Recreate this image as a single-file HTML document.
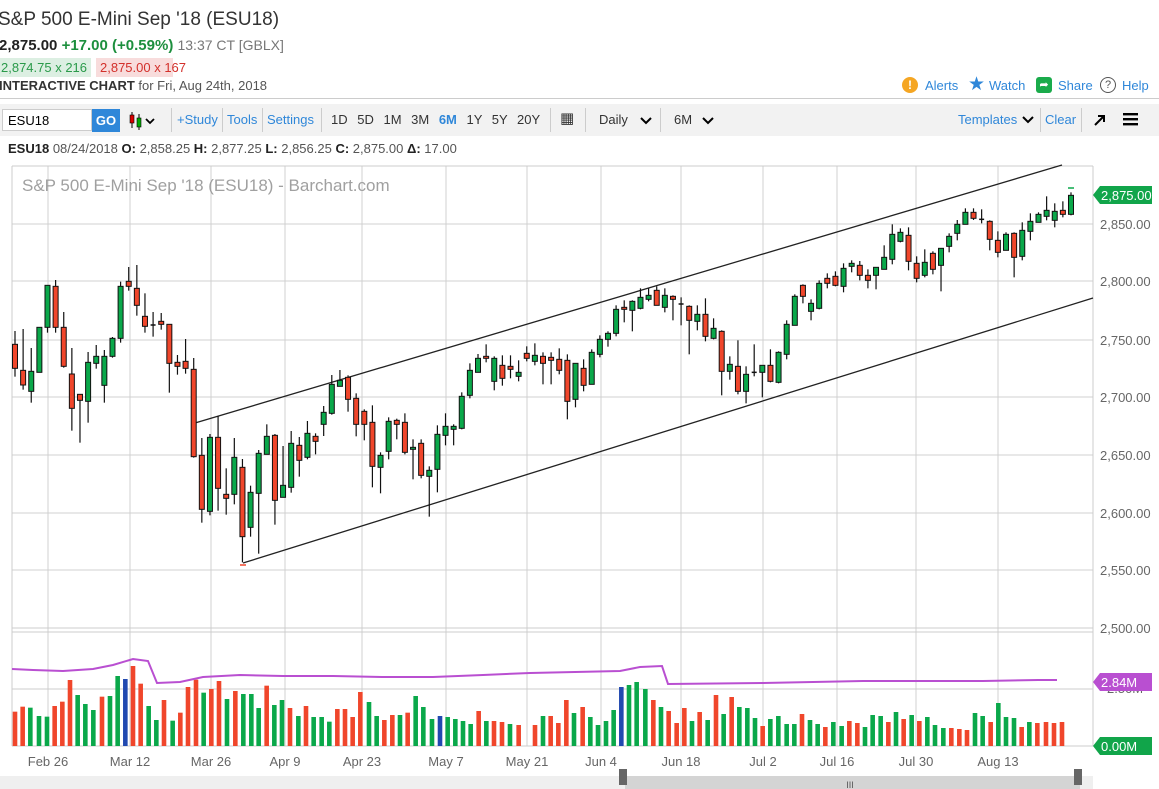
<!DOCTYPE html>
<html><head><meta charset="utf-8">
<style>
body{margin:0;width:1159px;height:789px;overflow:hidden;background:#fff;font-family:"Liberation Sans","DejaVu Sans",sans-serif;position:relative}
.a{position:absolute;white-space:nowrap}
.blue{color:#2f87d9}
</style></head><body>
<div class="a" style="left:-2px;top:9px;font-size:19px;color:#333">S&amp;P 500 E-Mini Sep '18 (ESU18)</div>
<div class="a" style="left:-1px;top:37px;font-size:15px;color:#222"><b>2,875.00</b> <b style="color:#1d8f3e">+17.00 (+0.59%)</b> <span style="color:#777;font-size:14px">13:37 CT [GBLX]</span></div>
<div class="a" style="left:0;top:58px;width:90px;height:19px;background:#dcefe2;color:#2a9a4a;font-size:13px;line-height:19px;padding-left:1px">2,874.75 x 216</div>
<div class="a" style="left:96px;top:58px;width:73px;height:19px;background:#f8dcdc;color:#d3302b;font-size:13px;line-height:19px;padding-left:4px">2,875.00 x 167</div>
<div class="a" style="left:-1px;top:78px;font-size:13px;color:#555"><b style="color:#333">INTERACTIVE CHART</b> for Fri, Aug 24th, 2018</div>
<div class="a" style="left:902px;top:77px;width:16px;height:16px;border-radius:50%;background:#f5a623;color:#fff;font-size:12px;font-weight:bold;text-align:center;line-height:16px">!</div>
<div class="a blue" style="left:925px;top:78px;font-size:13px">Alerts</div>
<div class="a" style="left:968px;top:73px;font-size:19px;color:#2f87d9">★</div>
<div class="a blue" style="left:989px;top:78px;font-size:13px">Watch</div>
<div class="a" style="left:1036px;top:77px;width:16px;height:16px;border-radius:3px;background:#1aab4b;color:#fff;font-size:11px;text-align:center;line-height:16px">➦</div>
<div class="a blue" style="left:1058px;top:78px;font-size:13px">Share</div>
<div class="a" style="left:1100px;top:77px;width:14px;height:14px;border-radius:50%;border:1.5px solid #555;color:#555;font-size:11px;text-align:center;line-height:14px">?</div>
<div class="a blue" style="left:1122px;top:78px;font-size:13px">Help</div>
<div class="a" style="left:0;top:98px;width:1159px;height:1px;background:#ccc"></div>
<div class="a" style="left:0;top:104px;width:1159px;height:32px;background:#f2f2f2"></div>
<div class="a" style="left:2px;top:109px;height:22px;background:#fff;border:1px solid #ccc;font-size:13px;line-height:22px;padding-left:5px;box-sizing:border-box;width:90px">ESU18</div>
<div class="a" style="left:92px;top:109px;width:28px;height:23px;background:#2f87d9;color:#fff;font-size:13px;font-weight:bold;text-align:center;line-height:23px">GO</div>
<svg class="a" style="left:128px;top:112px" width="32" height="18"><line x1="4" y1="0" x2="4" y2="16" stroke="#000"/><rect x="2" y="3" width="4" height="8" fill="#d00" stroke="#000" stroke-width=".6"/><line x1="11" y1="2" x2="11" y2="18" stroke="#000"/><rect x="9" y="6" width="4" height="9" fill="#0a0" stroke="#000" stroke-width=".6"/><path d="M18 7 l4 4 l4-4" stroke="#000" stroke-width="1.8" fill="none"/></svg>
<div class="a" style="left:171px;top:108px;width:1px;height:24px;background:#ccc"></div>
<div class="a blue" style="left:177px;top:112px;font-size:13px">+Study</div>
<div class="a" style="left:222px;top:108px;width:1px;height:24px;background:#ccc"></div>
<div class="a blue" style="left:227px;top:112px;font-size:13px">Tools</div>
<div class="a" style="left:262px;top:108px;width:1px;height:24px;background:#ccc"></div>
<div class="a blue" style="left:267px;top:112px;font-size:13px">Settings</div>
<div class="a" style="left:321px;top:108px;width:1px;height:24px;background:#ccc"></div>
<div class="a" style="left:331px;top:112px;font-size:13px;color:#333;word-spacing:6px">1D 5D 1M 3M <b style="color:#2f87d9">6M</b> 1Y 5Y 20Y</div>
<div class="a" style="left:550px;top:108px;width:1px;height:24px;background:#ccc"></div>
<div class="a" style="left:560px;top:109px;font-size:15px;color:#333">▦</div>
<div class="a" style="left:585px;top:108px;width:1px;height:24px;background:#ccc"></div>
<div class="a" style="left:599px;top:112px;font-size:13px;color:#333">Daily</div>
<svg class="a" style="left:640px;top:117px" width="12" height="8"><path d="M1 1 l5 5 l5-5" stroke="#000" stroke-width="2" fill="none"/></svg>
<div class="a" style="left:660px;top:108px;width:1px;height:24px;background:#ccc"></div>
<div class="a" style="left:674px;top:112px;font-size:13px;color:#333">6M</div>
<svg class="a" style="left:702px;top:117px" width="12" height="8"><path d="M1 1 l5 5 l5-5" stroke="#000" stroke-width="2" fill="none"/></svg>
<div class="a blue" style="left:958px;top:112px;font-size:13px">Templates</div>
<svg class="a" style="left:1022px;top:116px" width="12" height="8"><path d="M1 1 l5 5 l5-5" stroke="#000" stroke-width="2" fill="none"/></svg>
<div class="a" style="left:1040px;top:108px;width:1px;height:24px;background:#ccc"></div>
<div class="a blue" style="left:1045px;top:112px;font-size:13px">Clear</div>
<div class="a" style="left:1081px;top:108px;width:1px;height:24px;background:#ccc"></div>
<svg class="a" style="left:1093px;top:113px" width="14" height="14"><path d="M2 12 L11 3 M5 3 H11 V9" stroke="#000" stroke-width="2" fill="none"/></svg>
<svg class="a" style="left:1123px;top:112px" width="16" height="14"><rect x="0" y="1" width="15" height="2.4"/><rect x="0" y="6" width="15" height="2.4"/><rect x="0" y="11" width="15" height="2.4"/></svg>
<div class="a" style="left:8px;top:141px;font-size:13px;color:#555"><b style="color:#222">ESU18</b> 08/24/2018 <b style="color:#222">O:</b> 2,858.25 <b style="color:#222">H:</b> 2,877.25 <b style="color:#222">L:</b> 2,856.25 <b style="color:#222">C:</b> 2,875.00 <b style="color:#222">Δ:</b> 17.00</div>

<svg id="ch" class="a" style="left:0;top:0" width="1159" height="789"></svg>
<script>
var s=document.getElementById('ch'),h='';
function L(x1,y1,x2,y2,c,w){h+='<line x1="'+x1+'" y1="'+y1+'" x2="'+x2+'" y2="'+y2+'" stroke="'+c+'" stroke-width="'+(w||1)+'"/>';}
function T(x,y,t,c,sz,a){h+='<text x="'+x+'" y="'+y+'" fill="'+c+'" font-size="'+sz+'" font-family="Liberation Sans, sans-serif"'+(a?' text-anchor="'+a+'"':'')+'>'+t+'</text>';}
var gx=[48,130,211,285,362,446,527,601,681,763,837,916,998];
gx.forEach(function(x){L(x,166,x,746,'#d0d0d0');});
[224,281,340,397,455,513,570].forEach(function(y){L(12,y,1093,y,'#d0d0d0');});
L(12,628,1093,628,'#ccc');L(12,632,1093,632,'#ccc');L(12,689,1093,689,'#ccc');
L(12,166,1093,166,'#ccc');L(1093,166,1093,746,'#ccc');L(12,746,1093,746,'#ccc');L(12,166,12,746,'#ccc');
T(22,191,"S&amp;P 500 E-Mini Sep '18 (ESU18) - Barchart.com",'#a0a0a0',17);
var lab=[[224,'2,850.00'],[281,'2,800.00'],[340,'2,750.00'],[397,'2,700.00'],[455,'2,650.00'],[513,'2,600.00'],[570,'2,550.00'],[628,'2,500.00']];
lab.forEach(function(l){T(1100,l[0]+5,l[1],'#666',13);});
T(1107,693,'2.50M','#666',13);
var dl=['Feb 26','Mar 12','Mar 26','Apr 9','Apr 23','May 7','May 21','Jun 4','Jun 18','Jul 2','Jul 16','Jul 30','Aug 13'];
dl.forEach(function(d,i){T(gx[i],766,d,'#666',13,'middle');});
L(195,423,1062,165,'#222',1.3);L(243,563,1093,298,'#222',1.3);
var G=[[255,'RRGGGRRRRGGGGGRRRRdRRRRRGRRGRGGGRG',[[268,340,228,365],[346,390,222,404],[349,409,279,443],[217,352,217,352],[91,217,91,233],[94,217,75,233],[217,334,171,338],[357,460,279,527],[418,436,418,563],[322,439,291,503],[304,325,270,341],[304,391,285,443],[250,304,246,308],[94,250,80,263],[79,94,36,107],[100,151,30,182],[184,214,115,233],[210,213,171,245],[199,208,174,224],[208,325,208,413],[322,334,300,359],[319,340,252,356],[343,605,309,608],[601,763,549,803],[547,769,537,781],[547,700,483,767],[718,730,640,779],[607,718,549,748],[637,845,612,922],[712,817,692,845],[595,715,585,896],[544,598,508,598],[541,736,537,809],[691,727,573,727]]],
[280,'GRGRGGGRRRRGGRRGRGGGGGGGRGRRGRGRRRR',[[490,622,453,638],[496,541,471,590],[460,532,423,538],[469,484,460,523],[397,433,378,468],[313,400,285,404],[301,319,270,319],[292,358,286,395],[355,433,340,469],[394,433,388,481],[427,559,376,622],[526,562,517,640],[424,514,412,538],[421,433,416,478],[427,517,400,523],[502,508,478,598],[490,586,478,595],[571,589,559,710],[463,568,436,637],[439,466,400,496],[439,448,433,496],[349,445,337,448],[271,346,250,355],[235,277,222,277],[229,235,193,247],[235,304,229,331],[256,295,226,317],[259,268,226,295],[277,289,241,304],[220,235,199,244],[226,244,190,256],[229,250,217,313],[232,241,217,313],[238,271,205,283],[241,364,223,418]]],
[250,'GRGGGGRGGGRGRdRGRGRGRGdGRGGGRGGRR',[[340,448,340,472],[355,406,328,424],[307,403,298,403],[268,313,256,322],[250,268,244,290],[178,250,166,259],[172,178,151,217],[154,181,151,244],[142,175,115,178],[136,148,115,154],[121,166,109,166],[136,172,115,187],[139,148,136,211],[162,165,142,226],[169,211,166,313],[193,214,166,241],[193,259,145,274],[235,265,205,268],[244,364,241,436],[343,364,319,389],[349,424,271,433],[373,424,349,460],[367,370,283,379],[346,367,346,442],[346,394,298,397],[307,397,304,400],[223,313,211,328],[139,226,133,226],[106,139,103,160],[160,184,148,211],[100,175,91,178],[85,100,70,115],[79,106,64,109]]],
[170,'GGRRGGGGRRGRGGGGRdRRGRGGGGGRG',[[295,349,280,367],[280,289,271,307],[286,316,273,331],[316,331,298,355],[292,316,292,358],[262,298,226,298],[193,268,163,283],[187,214,175,217],[196,274,172,301],[280,325,259,337],[277,316,238,322],[250,298,244,313],[235,286,235,364],[199,229,190,247],[163,190,150,211],[127,163,115,163],[127,145,115,150],[148,151,118,160],[154,208,151,241],[211,247,184,262],[193,241,187,241],[190,262,187,322],[181,259,157,271],[154,184,130,211],[133,157,127,157],[121,139,79,151],[124,151,100,172],[121,133,94,142],[76,133,67,136]]]];
var i=0;
G.forEach(function(g){var oy=g[0],cols=g[1];g[2].forEach(function(c,k){var x=15+i*8.123,y=function(z){return oy+z/3;};var col=cols[k]=='G'?'#0aa84a':'#f0462b';
var t=y(c[0]),b=y(c[1]);L(x,y(c[2]),x,y(c[3]),'#111',1.2);
if(b-t<1.5){L(x-2.5,t,x+2.5,t,'#111',1.5);}else h+='<rect x="'+(x-2.5)+'" y="'+t+'" width="5" height="'+(b-t)+'" fill="'+col+'" stroke="#111" stroke-width="1"/>';i++;});});
L(240,565,246,565,'#f0462b',1.5);L(1068,188,1074,188,'#0aa84a',1.5);
function V(ox,xs,ts,cs){xs.forEach(function(x,k){var rx=ox+x/3,ty=640+ts[k]/3;var c=cs[k]=='G'?'#0aa84a':cs[k]=='B'?'#2149b0':'#f0462b';h+='<rect x="'+(rx-2.3)+'" y="'+ty+'" width="4.6" height="'+(746-ty)+'" fill="'+c+'"/>';});}
V(0,[45,68,91,117,141,164,187,210,233,256,280,306,330,353,376,399,422,446,469,492,518,541,564,588,611,634,657,681,706,730,754,776,800,823,846,870,895,918,941,965,988,1012,1035,1058,1081,1107,1130,1153,1177,1200,1223,1247,1270,1296,1320,1343,1366,1389,1412,1436,1459,1482,1506,1530,1556],
[215,200,203,228,230,198,185,120,165,192,210,170,168,108,117,78,131,198,240,180,242,218,141,119,158,147,123,177,153,162,162,204,137,195,180,204,228,198,231,231,245,207,207,231,156,186,228,240,225,225,218,168,201,237,228,231,237,243,252,213,243,243,246,252,255],
'RRGGGRRRGGGRGGBRRGGRGRRRGRRGRGGGRGGRGRGGGRRRRGGRRGRGGGBGGGGRGRRGR');
V(530,[15,39,62,85,109,132,158,181,204,228,251,274,297,320,346,370,393,416,440,463,486,509,533,558,581,605,628,652,675,698,721,745,770,793,816,840,863,886,910,935,958,982,1005,1028,1052,1075,1098,1121,1145,1168,1192,1215,1240,1264,1288,1311,1335,1358,1382,1405,1428,1452,1475,1498,1522,1548,1572,1596],
[255,228,228,249,180,219,201,231,255,243,210,141,135,126,147,180,201,213,249,204,243,216,240,165,222,171,201,204,234,258,237,228,252,252,222,240,252,261,246,258,243,249,261,225,228,246,216,237,225,243,231,255,264,264,267,270,219,228,246,189,231,234,261,246,249,246,249,246],
'RGRRRGRGGGGBGGGRGRRRGRGRGRGGGRGGGGRGGRGGRRGGGRGRGRGGGRRRGGRGGGRGRRRR');
h+='<polyline fill="none" stroke="#b94fd1" stroke-width="2" points="12,669 33,670 63,671 93,669 113,665 133,659 148,661 157,683 180,682 203,677 240,675 283,676 333,676 383,677 433,677 483,675 530,673 620,671 640,667 662,666 668,684 763,683 863,681 930,681 983,681 1038,680 1057,680"/>';
function tag(y,t,c){h+='<path d="M1093 '+y+' l7 -9 h52 v18 h-52 z" fill="'+c+'"/>';T(1101,y+5,t,'#fff',13);}
tag(195,'2,875.00','#11a54a');tag(682,'2.84M','#b94fd1');tag(746,'0.00M','#11a54a');
h+='<rect x="0" y="776" width="1093" height="13" fill="#efefef"/><rect x="625" y="776" width="455" height="13" fill="#d4d4d4"/>';
h+='<rect x="619" y="769" width="8" height="16" fill="#666"/><rect x="1074" y="769" width="8" height="16" fill="#666"/>';
T(850,788,'III','#555',9,'middle');
s.innerHTML=h;
</script>
</body></html>
